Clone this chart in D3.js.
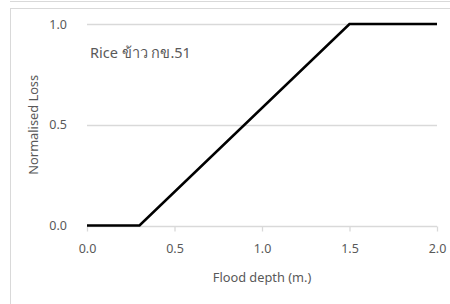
<!DOCTYPE html>
<html>
<head>
<meta charset="utf-8">
<script src="https://cdn.jsdelivr.net/npm/d3@7"></script>
<style>
  body { margin: 0; background: #fff; }
  text { font-family: "Noto Sans", "Open Sans", sans-serif; fill: #595959; }
</style>
</head>
<body>
<svg id="chart" width="450" height="304"></svg>
<script>
// flood depth (m.) vs normalised loss
const depth = [0, 0.3, 1.5, 2.0];
const loss  = [0, 0, 1, 1];
const xTicks = [0, 0.5, 1.0, 1.5, 2.0];
const yTicks = [0, 0.5, 1.0];
const label = 'Rice ข้าว กข.51';

const W = 450, H = 304;
const M = { top: 24, left: 87, right: 13, bottom: 78.5 };

const svg = d3.select('#chart');
const GRID = '#d9d9d9';

// outer frame bits
svg.append('line').attr('x1', 10).attr('x2', W).attr('y1', 1.5).attr('y2', 1.5)
  .attr('stroke', GRID);
svg.append('line').attr('x1', 10).attr('x2', W).attr('y1', 8.5).attr('y2', 8.5)
  .attr('stroke', GRID);
svg.append('line').attr('x1', 10.5).attr('x2', 10.5).attr('y1', 8).attr('y2', H)
  .attr('stroke', GRID);

const x = d3.scaleLinear().domain([0, 2]).range([M.left, W - M.right]);
const y = d3.scaleLinear().domain([0, 1]).range([H - M.bottom, M.top]);

// gridlines
svg.append('g').selectAll('line')
  .data(yTicks.filter(d => d > 0))
  .join('line')
  .attr('x1', x(0)).attr('x2', x(2))
  .attr('y1', d => Math.round(y(d)) + 0.5).attr('y2', d => Math.round(y(d)) + 0.5)
  .attr('stroke', GRID).attr('stroke-width', 1.3);

// x axis
const xAxis = svg.append('g')
  .attr('transform', `translate(0,${Math.round(y(0)) + 0.5})`)
  .call(d3.axisBottom(x).tickValues(xTicks).tickFormat(d3.format('.1f'))
    .tickSize(5).tickPadding(13));
xAxis.select('.domain').attr('stroke', GRID).attr('stroke-width', 1.3)
  .attr('d', `M${x(0)},0H${x(2)}`);
xAxis.selectAll('.tick line').attr('stroke', GRID).attr('stroke-width', 1.3);
xAxis.selectAll('.tick text').style('font-size', '12.5px').attr('fill', '#595959');

// y axis labels
const yAxis = svg.append('g')
  .attr('transform', `translate(${x(0)},0)`)
  .call(d3.axisLeft(y).tickValues(yTicks).tickFormat(d3.format('.1f'))
    .tickSize(0).tickPadding(20));
yAxis.select('.domain').remove();
yAxis.selectAll('.tick text').style('font-size', '12.5px').attr('fill', '#595959');

// data line
svg.append('path')
  .datum(depth.map((d, i) => [d, loss[i]]))
  .attr('fill', 'none')
  .attr('stroke', '#000')
  .attr('stroke-width', 2.6)
  .attr('d', d3.line().x(d => x(d[0])).y(d => y(d[1])));

// titles
svg.append('text')
  .attr('x', (x(0) + x(2)) / 2).attr('y', 282)
  .attr('text-anchor', 'middle')
  .style('font-size', '12.8px')
  .text('Flood depth (m.)');

svg.append('text')
  .attr('transform', `translate(38,${y(0.5)}) rotate(-90)`)
  .attr('text-anchor', 'middle')
  .style('font-size', '12.8px')
  .text('Normalised Loss');

svg.append('text')
  .attr('x', 90).attr('y', 58)
  .style('font-size', '14.5px')
  .text(label);
</script>
</body>
</html>
